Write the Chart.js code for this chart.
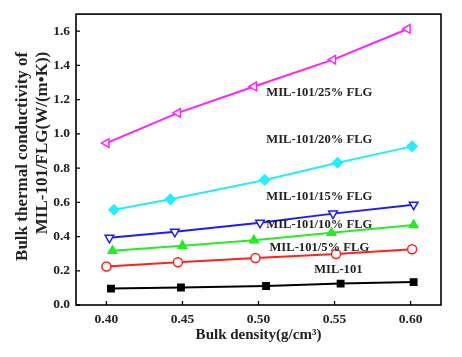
<!DOCTYPE html>
<html>
<head>
<meta charset="utf-8">
<script src="https://cdn.jsdelivr.net/npm/chart.js@4/dist/chart.umd.min.js"></script>
<style>
html,body{margin:0;padding:0;background:#fff;}
#wrap{width:462px;height:357px;position:relative;}
</style>
</head>
<body>
<div id="wrap"><canvas id="c" width="462" height="357"></canvas></div>
<script>
// ---- data ----
const seriesNames = ['MIL-101', 'MIL-101/5% FLG', 'MIL-101/10% FLG', 'MIL-101/15% FLG', 'MIL-101/20% FLG', 'MIL-101/25% FLG'];
const mil101X = [0.403, 0.449, 0.505, 0.554, 0.602];
const mil101Y = [0.096, 0.102, 0.111, 0.125, 0.134];
const flg5X  = [0.400, 0.447, 0.498, 0.551, 0.601];
const flg5Y  = [0.225, 0.250, 0.275, 0.298, 0.326];
const flg10X = [0.404, 0.450, 0.497, 0.548, 0.602];
const flg10Y = [0.317, 0.346, 0.378, 0.422, 0.467];
const flg15X = [0.402, 0.445, 0.501, 0.549, 0.602];
const flg15Y = [0.393, 0.428, 0.480, 0.534, 0.586];
const flg20X = [0.405, 0.442, 0.504, 0.552, 0.601];
const flg20Y = [0.557, 0.618, 0.731, 0.831, 0.927];
const flg25X = [0.400, 0.447, 0.497, 0.549, 0.598];
const flg25Y = [0.946, 1.123, 1.277, 1.434, 1.613];
const xTicks = [0.40, 0.45, 0.50, 0.55, 0.60];
const yTicks = [0.0, 0.2, 0.4, 0.6, 0.8, 1.0, 1.2, 1.4, 1.6];
// label anchor points (data coordinates) for the series names
const labelX = [0.5525, 0.540, 0.540, 0.540, 0.540, 0.540];
const labelY = [0.207, 0.334, 0.467, 0.634, 0.968, 1.238];

const xTitle = 'Bulk density(g/cm\u00B3)';
const yTitle = ['Bulk thermal conductivity of', 'MIL-101/FLG(W/(m\u2022K))'];

const pts = (xs, ys) => xs.map((x, i) => ({x: x, y: ys[i]}));
const SERIF = '"Liberation Serif", "Times New Roman", serif';

function ds(label, xs, ys, color, style, rot, filled, radius) {
  return {
    label: label,
    data: pts(xs, ys),
    showLine: true,
    borderColor: color,
    backgroundColor: filled ? color : '#ffffff',
    pointBorderColor: color,
    pointBackgroundColor: filled ? color : '#ffffff',
    pointStyle: style,
    pointRotation: rot,
    pointRadius: radius,
    pointBorderWidth: 1.5,
    borderWidth: 2,
    tension: 0
  };
}

const datasets = [
  ds(seriesNames[0], mil101X, mil101Y, '#000000', 'rect', 0, true, 4.5),
  ds(seriesNames[1], flg5X, flg5Y, '#ff2020', 'circle', 0, false, 4.5),
  ds(seriesNames[2], flg10X, flg10Y, '#22ee22', 'triangle', 0, true, 5),
  ds(seriesNames[3], flg15X, flg15Y, '#1c1cff', 'triangle', 180, false, 5),
  ds(seriesNames[4], flg20X, flg20Y, '#22eeff', 'rectRot', 0, true, 5),
  ds(seriesNames[5], flg25X, flg25Y, '#ff22ff', 'triangle', -90, false, 5)
];

const framePlugin = {
  id: 'frame',
  afterDatasetsDraw(chart) {
    const {ctx, chartArea: a, scales: {x, y}} = chart;
    ctx.save();
    ctx.strokeStyle = '#000';
    ctx.lineWidth = 1.6;
    ctx.strokeRect(a.left, a.top, a.right - a.left, a.bottom - a.top);
    ctx.lineWidth = 1.3;
    ctx.beginPath();
    xTicks.forEach(v => {
      const px = x.getPixelForValue(v);
      ctx.moveTo(px, a.bottom);
      ctx.lineTo(px, a.bottom - 4);
    });
    yTicks.forEach(v => {
      const py = y.getPixelForValue(v);
      ctx.moveTo(a.left, py);
      ctx.lineTo(a.left + 4, py);
    });
    ctx.stroke();
    ctx.fillStyle = '#222';
    ctx.font = 'bold 12.6px ' + SERIF;
    ctx.textAlign = 'center';
    ctx.textBaseline = 'middle';
    seriesNames.forEach((n, i) => {
      ctx.fillText(n, x.getPixelForValue(labelX[i]), y.getPixelForValue(labelY[i]));
    });
    // y axis title (two lines, rotated, end-aligned toward the top)
    ctx.font = 'bold 17px ' + SERIF;
    ctx.textAlign = 'right';
    const yTop = y.getPixelForValue(1.48);
    [23, 43].forEach((cx, i) => {
      ctx.save();
      ctx.translate(cx, yTop);
      ctx.rotate(-Math.PI / 2);
      ctx.fillText(yTitle[i], 0, 0);
      ctx.restore();
    });
    ctx.restore();
  }
};

new Chart(document.getElementById('c'), {
  type: 'scatter',
  data: {datasets: datasets},
  options: {
    responsive: false,
    animation: false,
    devicePixelRatio: 1,
    layout: {padding: {top: 10, right: 21, left: 0, bottom: 0}},
    plugins: {legend: {display: false}, tooltip: {enabled: false}},
    scales: {
      x: {
        type: 'linear', min: 0.38, max: 0.62,
        afterFit(s) { s.height = 52; },
        afterBuildTicks(s) { s.ticks = xTicks.map(v => ({value: v})); },
        grid: {display: false, drawTicks: false},
        border: {display: false},
        ticks: {
          padding: 6, color: '#222',
          font: {family: SERIF, size: 13.5, weight: 'bold'},
          callback: v => Number(v).toFixed(2)
        },
        title: {
          display: true, text: xTitle, color: '#222',
          font: {family: SERIF, size: 15, weight: 'bold', lineHeight: 1.2},
          padding: {top: 0, bottom: 13}
        }
      },
      y: {
        type: 'linear', min: 0, max: 1.7,
        afterFit(s) { s.width = 76; },
        afterBuildTicks(s) { s.ticks = yTicks.map(v => ({value: v})); },
        grid: {display: false, drawTicks: false},
        border: {display: false},
        ticks: {
          padding: 6, color: '#222',
          font: {family: SERIF, size: 13.5, weight: 'bold'},
          callback: v => Number(v).toFixed(1)
        },
        title: {display: false}
      }
    }
  },
  plugins: [framePlugin]
});
</script>
</body>
</html>
